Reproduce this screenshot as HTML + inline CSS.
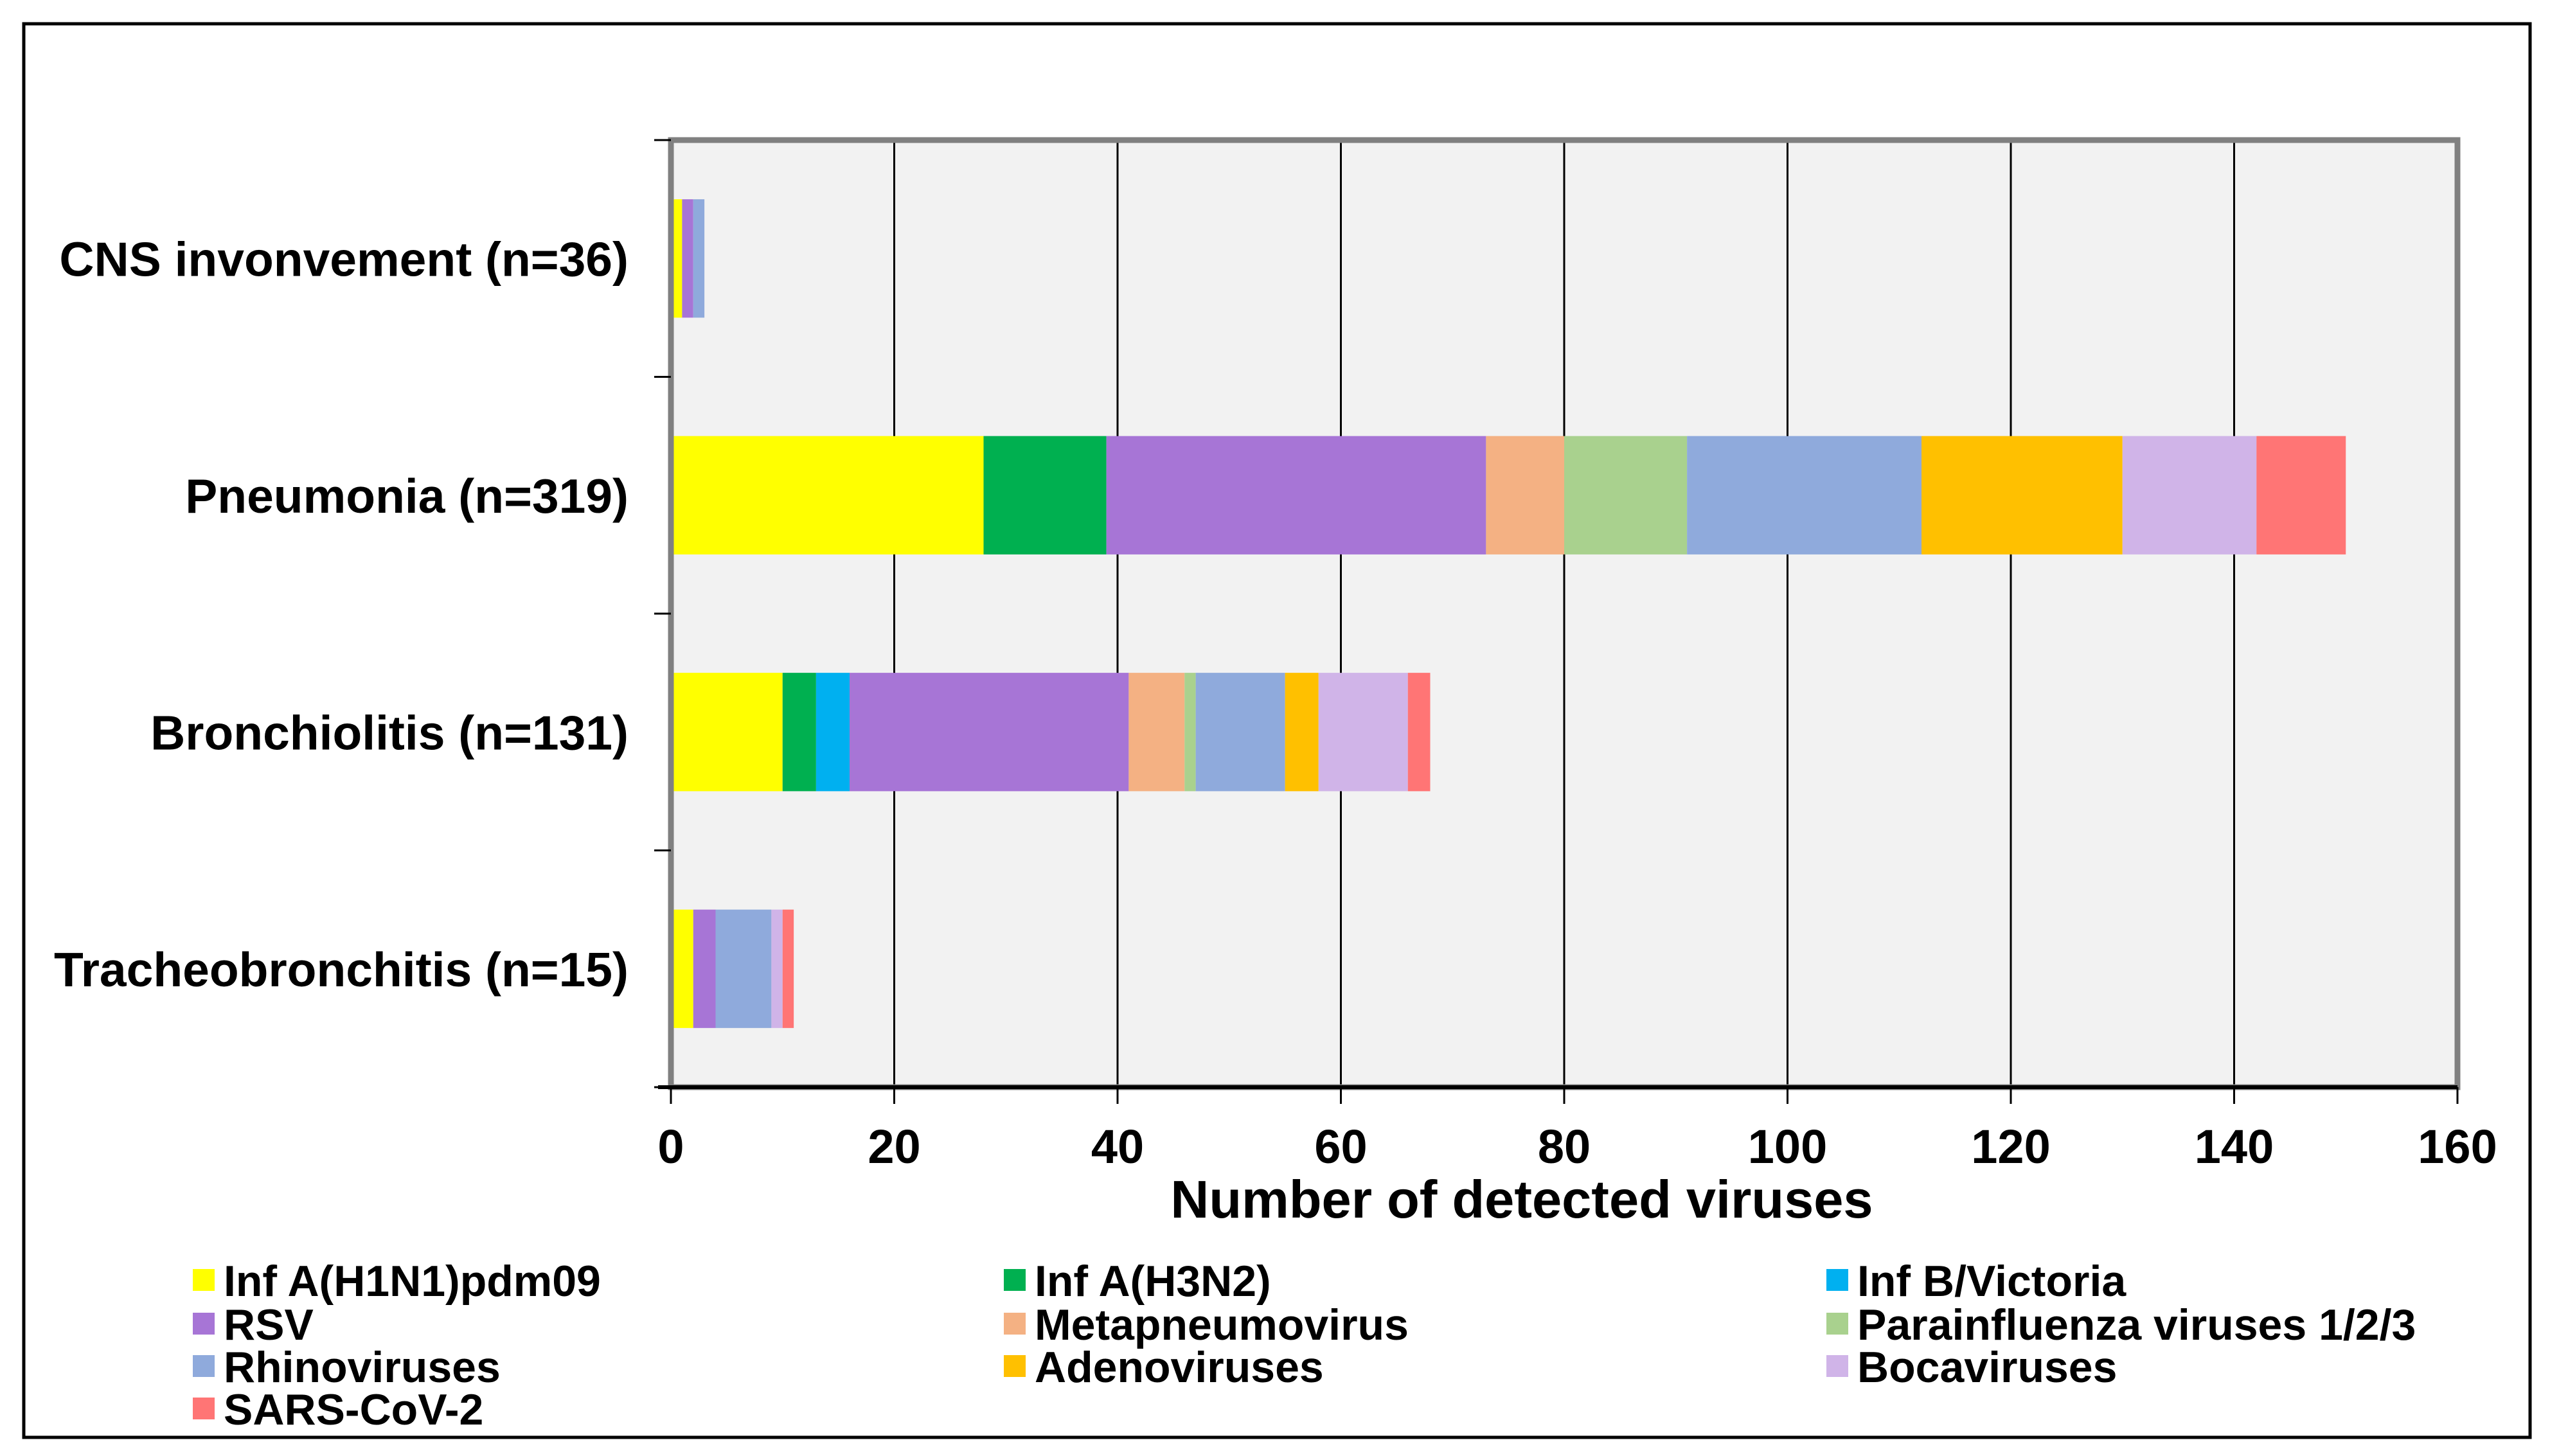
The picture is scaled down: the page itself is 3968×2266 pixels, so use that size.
<!DOCTYPE html>
<html><head><meta charset="utf-8"><style>
html,body{margin:0;padding:0;background:#fff;}
svg{display:block;font-family:"Liberation Sans",Arial,sans-serif;font-weight:bold;}
</style></head><body>
<svg id="chart" width="3968" height="2266" viewBox="0 0 3968 2266" xmlns="http://www.w3.org/2000/svg">
<rect x="37" y="37" width="3900" height="2200" fill="#fff" stroke="#000" stroke-width="5"/>
<rect x="1044" y="218" width="2780" height="1474" fill="#f2f2f2"/>
<g id="grid"></g>
<g id="bars"></g>
<rect x="1044" y="218" width="2780" height="1474" fill="none" stroke="#808080" stroke-width="9"/>
<g id="axes"></g>
<text x="2368" y="1895" font-size="83" text-anchor="middle">Number of detected viruses</text>
<g id="legend"></g>
</svg>
<script>
const categories = ["CNS invonvement (n=36)","Pneumonia (n=319)","Bronchiolitis (n=131)","Tracheobronchitis (n=15)"];
const seriesNames = ["Inf A(H1N1)pdm09","Inf A(H3N2)","Inf B/Victoria","RSV","Metapneumovirus","Parainfluenza viruses 1/2/3","Rhinoviruses","Adenoviruses","Bocaviruses","SARS-CoV-2"];
const seriesColors = ["#ffff00","#00b050","#00b0f0","#a775d6","#f4b183","#a9d18e","#8faadc","#ffc000","#d0b4e8","#ff7575"];
const h1n1 = [1,28,10,2];
const h3n2 = [0,11,3,0];
const infB = [0,0,3,0];
const rsv = [1,34,25,2];
const meta = [0,7,5,0];
const para = [0,11,1,0];
const rhino = [1,21,8,5];
const adeno = [0,18,3,0];
const boca = [0,12,8,1];
const sars = [0,8,2,1];
const xTicks = [0,20,40,60,80,100,120,140,160];

const seriesValues = [h1n1,h3n2,infB,rsv,meta,para,rhino,adeno,boca,sars];
const NS="http://www.w3.org/2000/svg";
const X0=1044,X1=3824,Y0=218,Y1=1692,XMAX=160;
const xs=v=>X0+(X1-X0)*v/XMAX;
const band=(Y1-Y0)/categories.length;
const yc=i=>Y0+band*(i+0.5);
function mk(tag,attrs,parent){const e=document.createElementNS(NS,tag);for(const k in attrs)e.setAttribute(k,attrs[k]);parent.appendChild(e);return e;}
const grid=document.getElementById('grid'),bars=document.getElementById('bars'),axes=document.getElementById('axes'),legend=document.getElementById('legend');
xTicks.forEach(t=>{
  if(t>0&&t<XMAX){const l=mk('line',{x1:xs(t),x2:xs(t),y1:Y0,y2:Y1,stroke:'#000','stroke-width':3},grid);
  
  }
  const tk=mk('line',{x1:xs(t),x2:xs(t),y1:Y1,y2:Y1+26,stroke:'#000','stroke-width':3},axes);
  
  
  const tx=mk('text',{x:xs(t),y:1810,'font-size':74,'text-anchor':'middle'},axes);
  tx.textContent=t;
  
  
});
const ax=mk('line',{x1:X0-20,x2:X1,y1:Y1,y2:Y1,stroke:'#000','stroke-width':6},axes);


for(let i=0;i<=categories.length;i++){
  const t=mk('line',{x1:X0-26,x2:X0,y1:Y0+band*i,y2:Y0+band*i,stroke:'#000','stroke-width':3},axes);
  
  
}
categories.forEach((c,i)=>{
  const t=mk('text',{x:978,y:yc(i)+27,'font-size':75,'text-anchor':'end'},axes);
  t.textContent=c;
  
  
  let acc=0;const bh=band*0.5;
  seriesValues.forEach((arr,s)=>{
    const v=arr[i];if(v>0){
      const r=mk('rect',{x:xs(acc),y:yc(i)-bh/2,width:xs(acc+v)-xs(acc),height:bh,fill:seriesColors[s]},bars);
      
      
    }
    acc+=v;
  });
});
const colX=[300,1562,2842],rowY=[1995,2063,2129,2195];
seriesNames.forEach((n,s)=>{
  const col=s%3,row=Math.floor(s/3);
  const g=mk('g',{},legend);
  
  
  mk('rect',{x:colX[col],y:rowY[row]-20,width:34,height:34,fill:seriesColors[s]},g);
  const t=mk('text',{x:colX[col]+48,y:rowY[row]+22,'font-size':68},g);
  t.textContent=n;
});
</script>
</body></html>
